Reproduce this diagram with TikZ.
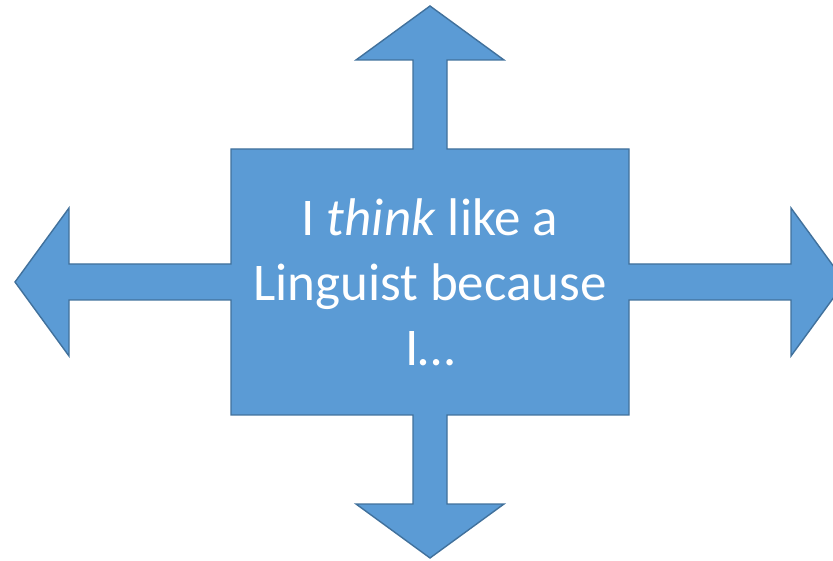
\documentclass[tikz,border=0pt]{standalone}
\usepackage{fontspec}
\setmainfont{Carlito}
\usepackage{xcolor}
\definecolor{boxblue}{HTML}{5B9BD5}
\definecolor{edgeblue}{HTML}{41719C}
\begin{document}
\begin{tikzpicture}[x=1pt,y=1pt]
    \useasboundingbox (0,0) rectangle (833,560);
    \filldraw [fill=boxblue, draw=edgeblue, line width=1.4pt, line join=miter]
      (231,411) -- (413,411) -- (413,500) -- (356,500) -- (430,554) -- (504,500)
      -- (447,500) -- (447,411) -- (629,411) -- (629,296) -- (791,296) -- (791,352)
      -- (845,278) -- (791,204) -- (791,260) -- (629,260) -- (629,145) -- (447,145)
      -- (447,56) -- (504,56) -- (430,2) -- (356,56) -- (413,56) -- (413,145)
      -- (231,145) -- (231,260) -- (69,260) -- (69,204) -- (15,278) -- (69,352)
      -- (69,296) -- (231,296) -- cycle;
    \node (box) [text=white, align=center, font=\fontsize{53}{65}\selectfont] at (430,278)
      {I \textit{think} like a\\Linguist because\\I…};
  \end{tikzpicture}
\end{document}
